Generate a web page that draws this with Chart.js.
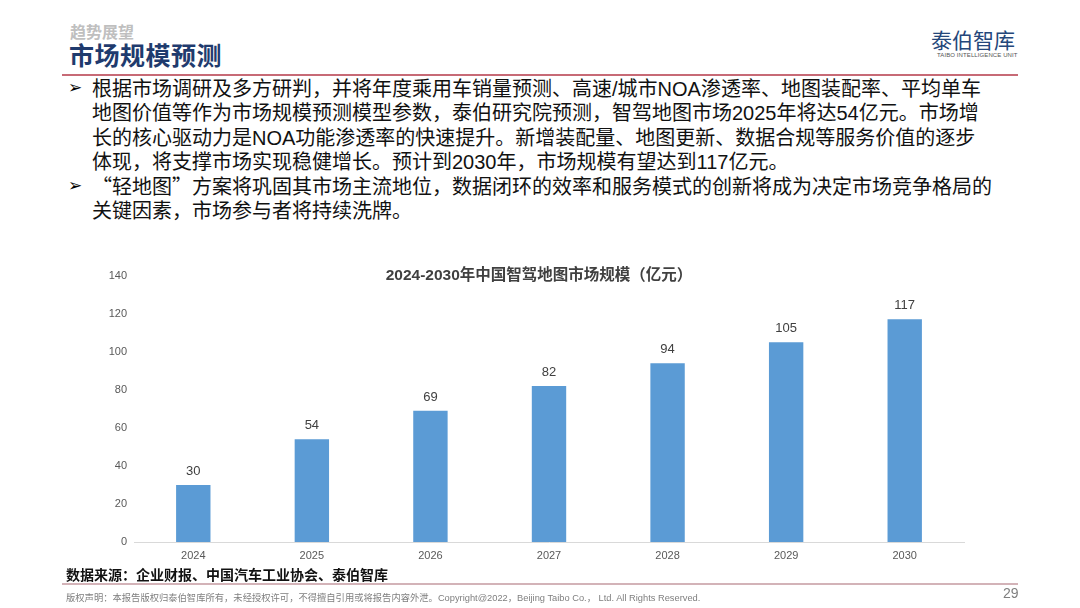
<!DOCTYPE html>
<html lang="zh-CN">
<head>
<meta charset="utf-8">
<script src="https://cdn.jsdelivr.net/npm/chart.js@4/dist/chart.umd.min.js"></script>
<style>
  html, body { margin: 0; padding: 0; background: #fff; }
  body { width: 1080px; height: 608px; position: relative; overflow: hidden;
         font-family: "Liberation Sans", "Noto Sans CJK SC", sans-serif; }
  .abs { position: absolute; white-space: nowrap; }
  .cjk { font-family: "Noto Sans CJK SC", sans-serif; }
  #kicker { left: 70px; top: 19px; font-size: 16px; font-weight: bold; color: #BFBFBF; }
  #heading { left: 69px; top: 36px; font-size: 25px; font-weight: bold; color: #1F3B6E; letter-spacing: 0.5px; }
  #logo { left: 931px; top: 24px; font-size: 21px; color: #24477A; }
  #logoSub { left: 937px; top: 52px; font-size: 6px; color: #555; letter-spacing: 0.1px; }
  #rule { left: 62px; top: 74px; width: 956px; height: 2px; background: #C76A76; }
  .arrow { font-family: "DejaVu Sans", sans-serif; font-size: 17px; color: #000; left: 68px; }
  .line { left: 92px; font-size: 20px; color: #111; line-height: 24px; }
  #chartTitle { left: 376px; top: 262px; width: 326px; text-align: center; font-size: 15.5px; font-weight: bold; color: #404040; z-index: 2; }
  #chartBox { position: absolute; left: 90px; top: 262px; width: 880px; height: 306px; }
  #source { left: 66px; top: 564px; font-size: 14px; font-weight: bold; color: #111; }
  #rule2 { left: 62px; top: 583px; width: 956px; height: 2px; background: #D3B3B8; }
  #copy { left: 66px; top: 590px; font-size: 9.3px; color: #7F7F7F; }
  #page { left: 1003px; top: 585px; font-size: 14px; color: #7F7F7F; }
</style>
</head>
<body>
<div class="abs" id="kicker">趋势展望</div>
<div class="abs" id="heading">市场规模预测</div>
<div class="abs" id="logo">泰伯智库</div>
<div class="abs" id="logoSub">TAIBO INTELLIGENCE UNIT</div>
<div class="abs" id="rule"></div>

<div class="abs arrow" style="top:77px">➢</div>
<div class="abs line" style="top:77px">根据市场调研及多方研判，并将年度乘用车销量预测、高速/城市NOA渗透率、地图装配率、平均单车</div>
<div class="abs line" style="top:101px">地图价值等作为市场规模预测模型参数，泰伯研究院预测，智驾地图市场2025年将达54亿元。市场增</div>
<div class="abs line" style="top:126px">长的核心驱动力是NOA功能渗透率的快速提升。新增装配量、地图更新、数据合规等服务价值的逐步</div>
<div class="abs line" style="top:150px">体现，将支撑市场实现稳健增长。预计到2030年，市场规模有望达到117亿元。</div>
<div class="abs arrow" style="top:175px">➢</div>
<div class="abs line" style="top:174px"><span class="cjk">“</span>轻地图<span class="cjk">”</span>方案将巩固其市场主流地位，数据闭环的效率和服务模式的创新将成为决定市场竞争格局的</div>
<div class="abs line" style="top:199px">关键因素，市场参与者将持续洗牌。</div>

<div class="abs" id="chartTitle">2024-2030年中国智驾地图市场规模（亿元）</div>
<div id="chartBox"><canvas id="marketChart"></canvas></div>

<div class="abs" id="source">数据来源：企业财报、中国汽车工业协会、泰伯智库</div>
<div class="abs" id="rule2"></div>
<div class="abs" id="copy">版权声明：本报告版权归泰伯智库所有，未经授权许可，不得擅自引用或将报告内容外泄。Copyright@2022，Beijing Taibo Co.， Ltd. All Rights Reserved.</div>
<div class="abs" id="page">29</div>

<script>
// chart data
const years = ['2024', '2025', '2026', '2027', '2028', '2029', '2030'];
const marketSize = [30, 54, 69, 82, 94, 105, 117];
const yMin = 0;
const yMax = 140;
const yStep = 20;

// value labels above the bars
const valueLabels = {
    id: 'valueLabels',
    afterDatasetsDraw(chart) {
        const ctx = chart.ctx;
        const meta = chart.getDatasetMeta(0);
        ctx.save();
        ctx.font = '13px "Liberation Sans", Arial, sans-serif';
        ctx.fillStyle = '#404040';
        ctx.textAlign = 'center';
        ctx.textBaseline = 'bottom';
        meta.data.forEach((bar, i) => {
            ctx.fillText(String(marketSize[i]), bar.x, bar.y - 7);
        });
        ctx.restore();
    }
};

const ctx = document.getElementById('marketChart');

new Chart(ctx, {
    type: 'bar',
    data: {
        labels: years,
        datasets: [{
            label: '市场规模（亿元）',
            data: marketSize,
            backgroundColor: '#5B9BD5',
            borderWidth: 0,
            barPercentage: 0.29,
            categoryPercentage: 1
        }]
    },
    options: {
        responsive: true,
        maintainAspectRatio: false,
        animation: false,
        layout: { padding: { top: 10, right: 6, left: 0, bottom: 0 } },
        plugins: {
            legend: { display: false },
            tooltip: { enabled: false },
            title: { display: false }
        },
        scales: {
            x: {
                grid: { display: false, drawTicks: false },
                border: { display: true, color: '#D9D9D9', width: 1 },
                ticks: {
                    color: '#595959',
                    padding: 7,
                    font: { family: '"Liberation Sans", Arial, sans-serif', size: 11 }
                },
                afterFit: (scale) => { scale.height = 26; }
            },
            y: {
                min: yMin,
                max: yMax,
                grid: { display: false, drawTicks: false },
                border: { display: false },
                ticks: {
                    stepSize: yStep,
                    color: '#595959',
                    padding: 7,
                    font: { family: '"Liberation Sans", Arial, sans-serif', size: 11 }
                },
                afterFit: (scale) => { scale.width = 44; }
            }
        }
    },
    plugins: [valueLabels]
});
</script>
</body>
</html>
